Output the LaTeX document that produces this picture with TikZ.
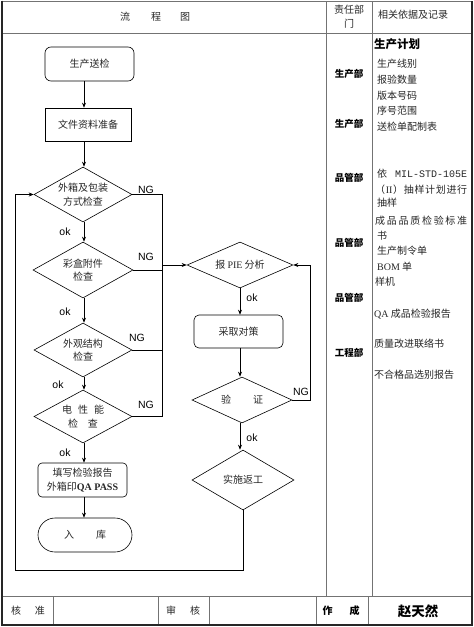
\documentclass[tikz,border=0pt]{standalone}
\usepackage{fontspec}
\setmainfont{Liberation Serif}
\newfontfamily\cjk{Noto Sans CJK SC}
\newfontfamily\arialf{Liberation Sans}
\newfontfamily\monof{Liberation Mono}
\usetikzlibrary{shapes.geometric,arrows.meta}
\begin{document}
\begin{tikzpicture}[x=1pt,y=-1pt,
  grid/.style={draw=black!55, line width=0.7pt},
  frame/.style={draw=black!85, line width=1.6pt},
  fl/.style={draw=black, line width=0.6pt},
  arr/.style={fl, -{Stealth[length=5pt,width=4pt]}},
  ft/.style={font=\cjk\fontsize{10}{13.5}\selectfont, align=center, text=black!85},
  procbox/.style={fl, ft, rectangle, inner sep=0pt, minimum width=89pt, minimum height=34pt},
  roundbox/.style={procbox, rounded corners=6pt},
  dia/.style={fl, ft, diamond, inner sep=0pt, aspect=2},
  lab/.style={font=\arialf\fontsize{10.5}{12}\selectfont, inner sep=0pt},
  hd/.style={font=\cjk\fontsize{10}{12}\selectfont, inner sep=0pt, text=black!85},
  dept/.style={font=\cjk\bfseries\fontsize{9.5}{11}\selectfont, inner sep=0pt},
  rec/.style={font=\cjk\fontsize{10}{12}\selectfont, inner sep=0pt, anchor=west, text=black!85},
]
\useasboundingbox (0,0) rectangle (474,627);

% ---- table ----
\draw[grid] (2,1) -- (472,1);
\draw[grid] (2,33) -- (472,33);
\draw[grid] (326,1) -- (326,596);
\draw[grid] (372,1) -- (372,596);
\draw[grid] (2,596) -- (472,596);
\foreach \x in {53,158,209,316,368} \draw[grid] (\x,596) -- (\x,625);
\draw[frame] (2,0.5) -- (2,625) -- (472,625) -- (472,0.5);

% header
\node[hd] (h1) at (155,17) {流\hspace{21pt}程\hspace{19pt}图};
\node[hd, align=center, font=\cjk\fontsize{10}{14}\selectfont] (h2) at (349,17) {责任部\\门};
\node[hd] (h3) at (413,15) {相关依据及记录};

% bottom row
\node[hd] (b1) at (28,611) {核\hspace{14pt}准};
\node[hd] (b2) at (183,611) {审\hspace{14pt}核};
\node[hd, font=\cjk\bfseries\fontsize{10}{12}\selectfont, text=black] (b3) at (341,611) {作\hspace{17pt}成};
\node[hd, font=\cjk\bfseries\fontsize{13.5}{15}\selectfont, text=black] (b4) at (418,611) {赵天然};

% ---- flowchart left ----
\coordinate (cA) at (84,0);
\coordinate (cB) at (240,0);
\coordinate (bus) at (162,0);
\coordinate (rb) at (310,0);
\coordinate (lb) at (15,570);

\node[roundbox] (n1) at (89.5,64) {生产送检};
\node[procbox, minimum width=86pt, minimum height=33pt] (n2) at (88,124.5) {文件资料准备};
\node[dia, minimum width=98pt, minimum height=55pt] (d1) at (83,194.5) {外箱及包装\\方式检查};
\node[dia, minimum width=100pt, minimum height=56pt] (d2) at (83,270) {彩盒附件\\检查};
\node[dia, minimum width=98pt, minimum height=54pt] (d3) at (83,350) {外观结构\\检查};
\node[dia, minimum width=98pt, minimum height=53pt] (d4) at (83,416.5) {电\hspace{6pt}性\hspace{6pt}能\\检\hspace{10pt}查};
\node[procbox, rounded corners=4pt] (n5) at (82.5,480) {填写检验报告\\外箱印{\rmfamily\bfseries QA PASS}};
\node[procbox, minimum width=94pt, rounded corners=17pt] (n6) at (85,535) {入\hspace{22pt}库};

\draw[arr] (n1.south -| cA) -- (n2.north -| cA);
\draw[arr] (n2.south -| cA) -- (d1.north -| cA);
\draw[arr] (d1.south -| cA) -- (d2.north -| cA);
\draw[arr] (d2.south -| cA) -- (d3.north -| cA);
\draw[arr] (d3.south -| cA) -- (d4.north -| cA);
\draw[arr] (d4.south -| cA) -- (n5.north -| cA);
\draw[arr] (n5.south -| cA) -- (n6.north -| cA);

\node[lab] (ok1) at (65,232) {ok};
\node[lab] (ok2) at (65,312) {ok};
\node[lab] (ok3) at (58,385) {ok};
\node[lab] (ok4) at (65,453) {ok};

\node[lab] (ng1) at (146,190) {NG};
\node[lab] (ng2) at (146,257) {NG};
\node[lab] (ng3) at (137,338) {NG};
\node[lab] (ng4) at (146,405) {NG};

% ---- flowchart right ----
\node[dia, minimum width=106pt, minimum height=46pt] (p1) at (240,265) {报 {\rmfamily PIE} 分析};
\node[procbox, minimum width=89pt, minimum height=33pt, rounded corners=5pt] (p2) at (238.5,331.5) {采取对策};
\node[dia, minimum width=100pt, minimum height=46pt] (p3) at (242,400) {验\hspace{22pt}证};
\node[dia, minimum width=102pt, minimum height=60pt] (p4) at (243,480) {实施返工};

\draw[arr] (p1.south -| cB) -- (p2.north -| cB);
\draw[arr] (p2.south -| cB) -- (p3.north -| cB);
\draw[arr] (p3.south -| cB) -- (p4.north -| cB);

\node[lab] (okr1) at (252,298) {ok};
\node[lab] (okr2) at (252,438) {ok};
\node[lab] (ng5) at (301,392) {NG};

% NG bus
\draw[fl] (d1.east) -- (d1.east -| bus) -- (d4.east -| bus) -- (d4.east);
\draw[fl] (d2.east) -- (d2.east -| bus);
\draw[fl] (d3.east) -- (d3.east -| bus);
\draw[arr] (p1.west -| bus) -- (p1.west);

% verify NG loop
\draw[arr] (p3.east) -- (p3.east -| rb) |- (p1.east);

% rework loop
\draw[arr] (p4.south) |- (lb) |- (d1.west);

% ---- department column ----
\node[dept] (dp1) at (349,74) {生产部};
\node[dept] (dp2) at (349,124) {生产部};
\node[dept] (dp3) at (349,178) {品管部};
\node[dept] (dp4) at (349,243) {品管部};
\node[dept] (dp5) at (349,298) {品管部};
\node[dept] (dp6) at (349,353) {工程部};

% ---- records column ----
\node[rec, font=\cjk\bfseries\fontsize{11.5}{13}\selectfont, text=black] (r0) at (374,44) {生产计划};
\node[rec] (r1) at (377,64) {生产线别};
\node[rec] (r2) at (377,80) {报验数量};
\node[rec] (r3) at (377,96) {版本号码};
\node[rec] (r4) at (377,111) {序号范围};
\node[rec] (r5) at (377,127) {送检单配制表};
\node[rec] (r6) at (377,174) {\makebox[90pt][l]{依\hfill{\monof MIL-STD-105E}}};
\node[rec] (r7) at (375,190) {\makebox[92pt][l]{（\hfill{\rmfamily II}\hfill）\hfill 抽\hfill 样\hfill 计\hfill 划\hfill 进\hfill 行}};
\node[rec] (r8) at (377,203) {抽样};
\node[rec] (r9) at (375,221) {\makebox[92pt][l]{成\hfill 品\hfill 品\hfill 质\hfill 检\hfill 验\hfill 标\hfill 准}};
\node[rec] (r10) at (377,236) {书};
\node[rec] (r11) at (377,251) {生产制令单};
\node[rec] (r12) at (377,267) {{\rmfamily BOM} 单};
\node[rec] (r13) at (375,282) {样机};
\node[rec] (r14) at (374,314) {{\rmfamily QA} 成品检验报告};
\node[rec] (r15) at (374,344) {质量改进联络书};
\node[rec] (r16) at (374,375) {不合格品选别报告};
\end{tikzpicture}
\end{document}
